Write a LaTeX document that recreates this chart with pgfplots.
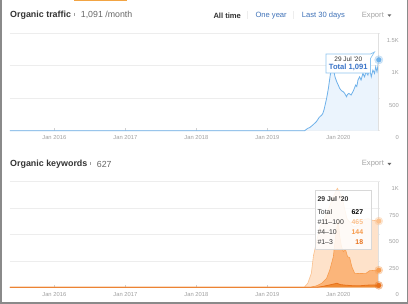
\documentclass[border=0pt]{standalone}
\usepackage{pgfplots}
\pgfplotsset{compat=1.18}
\usepackage{pgfplotstable}
\usepackage{fontspec}
\setmainfont{Liberation Sans}

\definecolor{bordergray}{HTML}{8A8A8A}
\definecolor{taborange}{HTML}{F2A443}
\definecolor{gridgray}{HTML}{EDEDED}
\definecolor{labelgray}{HTML}{A0A0A0}
\definecolor{tickgray}{HTML}{D0D0D0}
\definecolor{cursorgray}{HTML}{E0E0E0}
\definecolor{headdark}{HTML}{333333}
\definecolor{headmid}{HTML}{666666}
\definecolor{linkblue}{HTML}{3F72B8}
\definecolor{exportgray}{HTML}{A5A5A5}
\definecolor{trafline}{HTML}{6EB1EA}
\definecolor{traffill}{HTML}{EBF4FD}
\definecolor{tipblue}{HTML}{8EC5F0}
\definecolor{totalblue}{HTML}{3A74C8}
\definecolor{klightfill}{HTML}{FEE2CA}
\definecolor{klightline}{HTML}{FBC08C}
\definecolor{kmedfill}{HTML}{FBB57A}
\definecolor{kmedline}{HTML}{F79C4E}
\definecolor{kdarkfill}{HTML}{F08B33}
\definecolor{kdarkline}{HTML}{E8711A}
\definecolor{tipgray}{HTML}{D8D8D8}

\pgfplotstableread{
x y
2015.376 0
2019.525 0
2019.57 36
2019.60 50
2019.64 87
2019.69 138
2019.71 170
2019.73 205
2019.766 240
2019.78 260
2019.80 328
2019.835 497
2019.86 650
2019.883 830
2019.906 1000
2019.93 960
2019.953 830
2019.975 760
2020.0 700
2020.02 650
2020.045 615
2020.07 600
2020.09 574
2020.115 523
2020.13 560
2020.15 574
2020.18 549
2020.20 590
2020.216 625
2020.244 703
2020.26 680
2020.277 780
2020.30 830
2020.32 780
2020.346 882
2020.37 830
2020.39 908
2020.417 856
2020.44 960
2020.464 830
2020.487 933
2020.51 882
2020.526 985
2020.545 908
2020.57 1091
}\traffic

\pgfplotstableread{
x y
2015.376 0
2019.52 0
2019.57 38
2019.62 132
2019.65 300
2019.67 360
2019.74 574
2019.84 700
2019.93 858
2019.986 937
2020.05 858
2020.12 653
2020.21 574
2020.30 590
2020.36 640
2020.42 650
2020.48 635
2020.57 627
}\ktotal

\pgfplotstableread{
x y
2015.376 0
2019.60 0
2019.69 13
2019.766 38
2019.835 85
2019.88 164
2019.93 290
2019.953 432
2019.977 558
2020.0 620
2020.02 480
2020.045 385
2020.07 338
2020.10 360
2020.13 290
2020.16 280
2020.19 195
2020.23 132
2020.30 130
2020.39 132
2020.44 157
2020.50 160
2020.57 162
}\kmid

\pgfplotstableread{
x y
2015.376 0
2019.70 0
2019.78 8
2019.85 18
2019.93 30
2019.98 38
2020.03 25
2020.10 20
2020.20 15
2020.30 14
2020.40 20
2020.50 22
2020.57 18
}\kdark

\pgfplotsset{
  panel/.style={
    scale only axis, width=370pt,
    xmin=2015.376, xmax=2020.587, ymin=0,
    axis line style={draw=none},
    ymajorgrids, grid style={gridgray, line width=0.6pt},
    yticklabel pos=right, ytick pos=right, xtick pos=bottom,
    ytick style={draw=none},
    xtick={2016,2017,2018,2019,2020},
    xticklabels={Jan 2016,Jan 2017,Jan 2018,Jan 2019,Jan 2020},
    xtick style={tickgray, line width=0.5pt},
    tick align=inside, major tick length=2.5pt,
    tick label style={font=\fontsize{5.8}{6}\selectfont, text=labelgray, inner sep=0pt},
    yticklabel style={anchor=north east, xshift=19pt, yshift=-5pt},
    xticklabel style={anchor=north, yshift=-5pt},
    clip=false,
  }
}

\begin{document}
\begin{tikzpicture}[x=1pt,y=1pt]
\path[use as bounding box] (0,0) rectangle (408,304);
\fill[white] (0,0) rectangle (408,304);

% ---------- Panel 1: Organic traffic ----------
\begin{axis}[panel, at={(10pt,173.3pt)}, anchor=south west, height=97.4pt,
  ymax=1500, ytick={0,500,1000,1500}, yticklabels={0,500,1K,1.5K}]
\addplot[fill=traffill, draw=none] table[x=x,y=y]{\traffic} \closedcycle;
\addplot[trafline, line width=0.8pt] table[x=x,y=y]{\traffic};
\draw[cursorgray, line width=0.6pt] (axis cs:2020.57,0) -- (axis cs:2020.57,1500);
\addplot[only marks, mark=*, mark size=4.2pt, color=trafline, opacity=0.3] coordinates {(2020.57,1091)};
\addplot[only marks, mark=*, mark size=2.3pt, color=trafline] coordinates {(2020.57,1091)};
\end{axis}

% ---------- Panel 2: Organic keywords ----------
\begin{axis}[panel, at={(10pt,16.7pt)}, anchor=south west, height=105.6pt,
  ymax=1000, ytick={0,250,500,750,1000}, yticklabels={0,250,500,750,1K}]
\addplot[fill=klightfill, draw=none] table[x=x,y=y]{\ktotal} \closedcycle;
\addplot[klightline, line width=0.6pt] table[x=x,y=y]{\ktotal};
\addplot[fill=kmedfill, draw=none] table[x=x,y=y]{\kmid} \closedcycle;
\addplot[kmedline, line width=0.6pt] table[x=x,y=y]{\kmid};
\addplot[fill=kdarkfill, draw=none] table[x=x,y=y]{\kdark} \closedcycle;
\addplot[kdarkline, line width=0.8pt] table[x=x,y=y]{\kdark};
\draw[cursorgray, line width=0.6pt] (axis cs:2020.57,0) -- (axis cs:2020.57,1000);
\addplot[only marks, mark=*, mark size=4pt, color=klightline, opacity=0.35] coordinates {(2020.57,627)};
\addplot[only marks, mark=*, mark size=2.3pt, color=klightline] coordinates {(2020.57,627)};
\addplot[only marks, mark=*, mark size=4pt, color=kmedline, opacity=0.35] coordinates {(2020.57,162)};
\addplot[only marks, mark=*, mark size=2.3pt, color=kmedline] coordinates {(2020.57,162)};
\addplot[only marks, mark=*, mark size=4pt, color=kdarkline, opacity=0.35] coordinates {(2020.57,18)};
\addplot[only marks, mark=*, mark size=2.3pt, color=kdarkline] coordinates {(2020.57,18)};
\end{axis}

% ---------- Tooltip 1 ----------
\draw[tipblue, fill=white, line width=0.7pt] (326,250) -- (370.5,250) -- (374.5,252) -- (370.5,245.5) -- (370.5,231) -- (326,231) -- cycle;
\node[font=\fontsize{6.5}{7}\selectfont, text=headdark, inner sep=0pt] at (348.3,244.5) {29 Jul '20};
\node[font=\fontsize{7.6}{8}\selectfont\bfseries, text=totalblue, inner sep=0pt] at (348.3,236.5) {Total 1,091};

% ---------- Tooltip 2 ----------
\draw[tipgray, fill=white, fill opacity=0.85, line width=0.6pt] (315,114) rectangle (371.5,54.5);
\begin{scope}[font=\fontsize{6.9}{7}\selectfont, inner sep=0pt]
\node[anchor=west, text=headdark, font=\fontsize{6.9}{7}\selectfont\bfseries] at (317.3,105) {29 Jul '20};
\node[anchor=west, text=headdark] at (317.3,92.3) {Total};
\node[anchor=east, text=black, font=\fontsize{6.9}{7}\selectfont\bfseries] at (363.3,92.3) {627};
\node[anchor=west, text=headdark] at (317.3,82.3) {\#11--100};
\node[anchor=east, text=klightline, font=\fontsize{6.9}{7}\selectfont\bfseries] at (363.3,82.3) {465};
\node[anchor=west, text=headdark] at (317.3,72.3) {\#4--10};
\node[anchor=east, text=kmedline, font=\fontsize{6.9}{7}\selectfont\bfseries] at (363.3,72.3) {144};
\node[anchor=west, text=headdark] at (317.3,62.3) {\#1--3};
\node[anchor=east, text=kdarkline, font=\fontsize{6.9}{7}\selectfont\bfseries] at (363.3,62.3) {18};
\end{scope}

% ---------- Headers ----------
\node[anchor=west, inner sep=0pt, text=headdark, font=\fontsize{8.9}{10}\selectfont\bfseries] at (10,289) {Organic traffic};
\draw[labelgray, line width=0.6pt] (74.3,291) -- (74.3,287.5);
\node[anchor=west, inner sep=0pt, text=headmid, font=\fontsize{8.8}{10}\selectfont] at (80.7,289) {1,091 /month};
\node[anchor=west, inner sep=0pt, text=headdark, font=\fontsize{7.6}{9}\selectfont\bfseries] at (213.3,288.6) {All time};
\draw[gridgray, line width=0.7pt] (247.3,292.5) -- (247.3,284.5);
\node[anchor=west, inner sep=0pt, text=linkblue, font=\fontsize{7.6}{9}\selectfont] at (255.3,288.6) {One year};
\draw[gridgray, line width=0.7pt] (293.3,292.5) -- (293.3,284.5);
\node[anchor=west, inner sep=0pt, text=linkblue, font=\fontsize{7.6}{9}\selectfont] at (301.7,288.6) {Last 30 days};
\node[anchor=west, inner sep=0pt, text=exportgray, font=\fontsize{7.6}{9}\selectfont] at (361.7,288.6) {Export};
\fill[headmid] (387.5,289.6) -- (391.3,289.6) -- (389.4,287.3) -- cycle;

\node[anchor=west, inner sep=0pt, text=headdark, font=\fontsize{8.9}{10}\selectfont\bfseries] at (10,140) {Organic keywords};
\draw[labelgray, line width=0.6pt] (90,142) -- (90,138.5);
\node[anchor=west, inner sep=0pt, text=headmid, font=\fontsize{8.8}{10}\selectfont] at (96.7,140) {627};
\node[anchor=west, inner sep=0pt, text=exportgray, font=\fontsize{7.6}{9}\selectfont] at (361.7,140) {Export};
\fill[headmid] (387.5,141) -- (391.3,141) -- (389.4,138.7) -- cycle;

% ---------- Frame ----------
\fill[taborange] (74,302.5) rectangle (127,304);
\fill[bordergray] (0,0) rectangle (1.8,304);
\fill[bordergray] (0,0) rectangle (408,1.8);
\fill[bordergray] (406.6,0) rectangle (408,304);
\end{tikzpicture}
\end{document}
